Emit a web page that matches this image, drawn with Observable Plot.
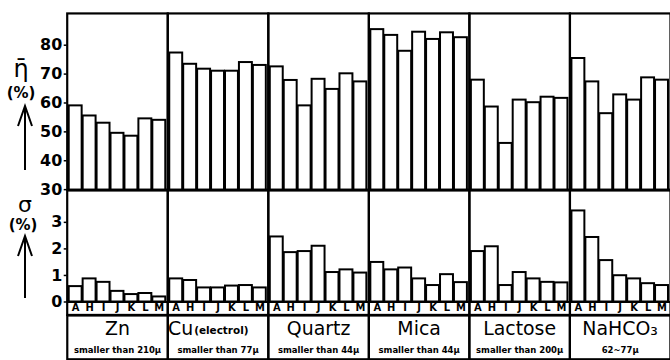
<!DOCTYPE html>
<html><head><meta charset="utf-8">
<script src="https://cdn.jsdelivr.net/npm/d3@7"></script>
<script src="https://cdn.jsdelivr.net/npm/@observablehq/plot@0.6"></script>
<style>
html,body{margin:0;padding:0;background:#fff;overflow:hidden;}
#c{position:relative;width:670px;height:360px;overflow:hidden;background:#fff;}
#c > svg{position:absolute;left:0;}
</style></head><body><div id="c"></div>
<script>
const materials = ["Zn", "Cu", "Quartz", "Mica", "Lactose", "NaHCO3"];
const materialNames = ["Zn", "Cu", "Quartz", "Mica", "Lactose", "NaHCO₃"];
const nameSuffixes = ["", "(electrol)", "", "", "", ""];
const sizeNotes = ["smaller than 210μ", "smaller than 77μ", "smaller than 44μ", "smaller than 44μ", "smaller than 200μ", "62~77μ"];
const codes = ["A", "H", "I", "J", "K", "L", "M"];

const etaZn = [59, 55.5, 53, 49.5, 48.5, 54.5, 54];
const etaCu = [77.3, 73.4, 71.7, 71, 71, 74, 73];
const etaQuartz = [72.5, 67.8, 59, 68.2, 64.7, 70.1, 67.3];
const etaMica = [85.4, 83.4, 77.9, 84.5, 82, 84.3, 82.6];
const etaLactose = [67.9, 58.6, 46, 61, 60.1, 62, 61.6];
const etaNaHCO3 = [75.4, 67.3, 56.3, 62.8, 61, 68.7, 67.9];

const sigmaZn = [0.58, 0.87, 0.74, 0.4, 0.28, 0.32, 0.19];
const sigmaCu = [0.87, 0.81, 0.53, 0.53, 0.6, 0.62, 0.53];
const sigmaQuartz = [2.45, 1.86, 1.9, 2.1, 1.11, 1.21, 1.09];
const sigmaMica = [1.49, 1.21, 1.28, 0.87, 0.62, 1.03, 0.73];
const sigmaLactose = [1.9, 2.08, 0.62, 1.11, 0.87, 0.74, 0.72];
const sigmaNaHCO3 = [3.43, 2.43, 1.56, 0.99, 0.87, 0.69, 0.62];

const etaTicks = [30, 40, 50, 60, 70, 80];
const sigmaTicks = [0, 1, 2, 3];

const etaSeries = [etaZn, etaCu, etaQuartz, etaMica, etaLactose, etaNaHCO3];
const sigmaSeries = [sigmaZn, sigmaCu, sigmaQuartz, sigmaMica, sigmaLactose, sigmaNaHCO3];
const rows = materials.flatMap((m, i) => codes.map((c, j) => ({material: m, code: c, eta: etaSeries[i][j], sigma: sigmaSeries[i][j]})));
const labels = materials.map((m, i) => ({material: m, name: materialNames[i], suffix: nameSuffixes[i], note: sizeNotes[i]}));

const W = 673;
const FONT = "'DejaVu Sans', sans-serif";
const COND = "'DejaVu Sans Condensed', 'DejaVu Sans', sans-serif";
const fxOpt = {domain: materials, padding: 0, axis: null};
const xOpt = {domain: codes, paddingInner: 0.1, paddingOuter: 0.03};
const svgStyle = {background: "transparent", overflow: "visible", fontFamily: FONT};
const c = document.getElementById("c");

const topPlot = Plot.plot({
  width: W, height: 190, marginTop: 13, marginBottom: 0, marginLeft: 66, marginRight: 0,
  style: svgStyle,
  fx: fxOpt,
  x: {...xOpt, axis: null},
  y: {domain: [30, 91], axis: null},
  marks: [
    Plot.barY(rows, {fx: "material", x: "code", y: "eta", fill: "white", stroke: "black", strokeWidth: 2, clip: true}),
    Plot.frame({stroke: "black", strokeWidth: 2.2}),
    Plot.axisY(etaTicks, {tickSize: 3, tickPadding: 2, fontSize: 16, fontWeight: "bold", fontFamily: FONT, label: null, strokeWidth: 1.5})
  ]
});

const midPlot = Plot.plot({
  width: W, height: 125, marginTop: 0, marginBottom: 13, marginLeft: 66, marginRight: 0,
  style: svgStyle,
  fx: fxOpt,
  x: xOpt,
  y: {domain: [0, 4.2], axis: null},
  marks: [
    Plot.barY(rows, {fx: "material", x: "code", y: "sigma", fill: "white", stroke: "black", strokeWidth: 2}),
    Plot.frame({stroke: "black", strokeWidth: 2.2, insetBottom: -13}),
    Plot.ruleY([0], {stroke: "black", strokeWidth: 2}),
    Plot.axisY(sigmaTicks, {tickSize: 3, tickPadding: 2, fontSize: 16, fontWeight: "bold", fontFamily: FONT, label: null, strokeWidth: 1.5}),
    Plot.axisX({tickSize: 0, tickPadding: 2, fontSize: 10, fontWeight: "bold", label: null})
  ]
});

const labPlot = Plot.plot({
  width: W, height: 46, marginTop: 1, marginBottom: 1, marginLeft: 66, marginRight: 0,
  style: svgStyle,
  fx: fxOpt,
  marks: [
    Plot.frame({stroke: "black", strokeWidth: 2.2}),
    Plot.text(labels.filter(d => !d.suffix), {fx: "material", text: "name", frameAnchor: "top", lineAnchor: "top", dy: 6, fontSize: 19}),
    Plot.text(labels.filter(d => d.suffix), {fx: "material", text: "name", frameAnchor: "top", lineAnchor: "top", textAnchor: "end", dx: -25, dy: 6, fontSize: 19}),
    Plot.text(labels.filter(d => d.suffix), {fx: "material", text: "suffix", frameAnchor: "top", lineAnchor: "top", textAnchor: "start", dx: -24, dy: 11, fontSize: 10.5, fontWeight: "bold", fontFamily: FONT}),
    Plot.text(labels, {fx: "material", text: "note", frameAnchor: "bottom", lineAnchor: "bottom", dy: -6, fontSize: 9.5, fontWeight: "bold", fontFamily: COND})
  ]
});

topPlot.style.top = "0px";
midPlot.style.top = "190px";
labPlot.style.top = "314px";
c.appendChild(labPlot);
c.appendChild(midPlot);
c.appendChild(topPlot);

// axis titles
const ov = d3.create("svg").attr("width", 66).attr("height", 360).style("top", "0px").style("position", "absolute").style("left", "0px");
ov.append("text").attr("x", 21).attr("y", 77).attr("text-anchor", "middle").style("font-family", FONT).style("font-size", "24px").text("η̄");
ov.append("text").attr("x", 21).attr("y", 98).attr("text-anchor", "middle").style("font-family", FONT).style("font-weight", "bold").style("font-size", "15px").text("(%)");
ov.append("path").attr("d", "M25,170V106M18,126L25,106L32,126").attr("fill", "none").attr("stroke", "black").attr("stroke-width", 2);
ov.append("text").attr("x", 25).attr("y", 212).attr("text-anchor", "middle").style("font-family", FONT).style("font-size", "22px").text("σ");
ov.append("text").attr("x", 23).attr("y", 230).attr("text-anchor", "middle").style("font-family", FONT).style("font-weight", "bold").style("font-size", "15px").text("(%)");
ov.append("path").attr("d", "M25,298V236M18,256L25,236L32,256").attr("fill", "none").attr("stroke", "black").attr("stroke-width", 2);
c.appendChild(ov.node());
</script></body></html>
